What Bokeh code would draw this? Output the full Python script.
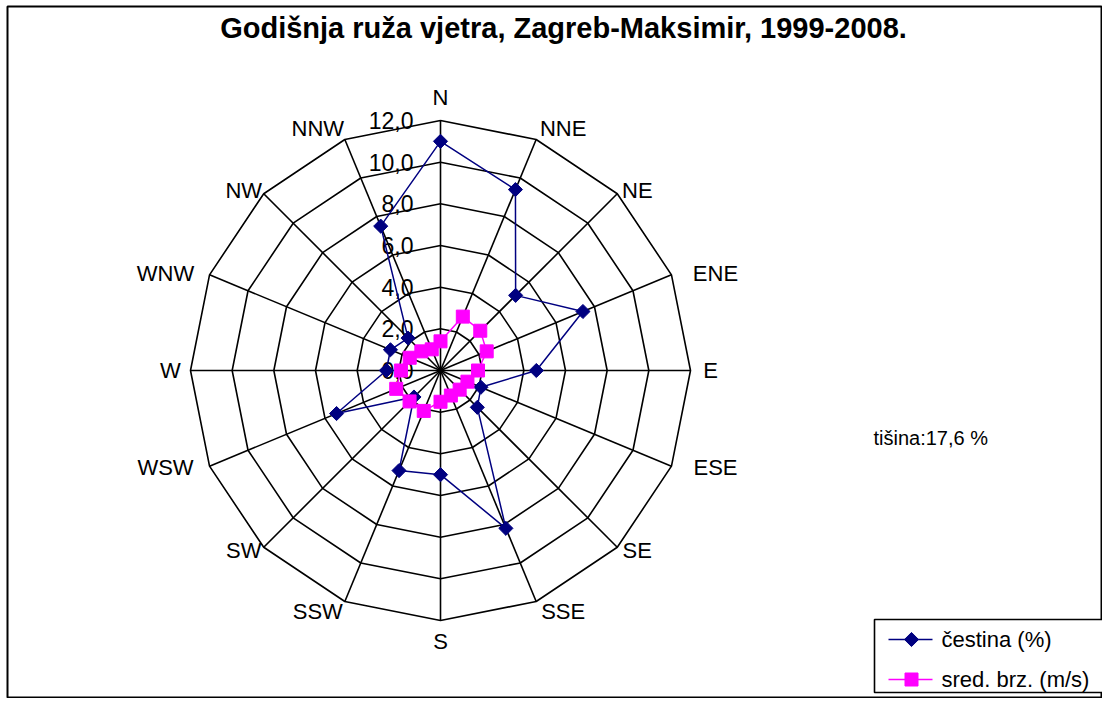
import numpy as np
from bokeh.plotting import figure
from bokeh.models import Range1d
from bokeh.core.properties import value
from bokeh.embed import file_html
from bokeh.resources import INLINE

# ---- data ----
directions = ["N", "NNE", "NE", "ENE", "E", "ESE", "SE", "SSE",
              "S", "SSW", "SW", "WSW", "W", "WNW", "NW", "NNW"]
frequency = [11.0, 9.4, 5.1, 7.4, 4.6, 2.1, 2.5, 8.2,
             5.0, 5.2, 1.8, 5.4, 2.6, 2.6, 2.2, 7.5]      # čestina (%)
speed = [1.4, 2.8, 2.7, 2.4, 1.8, 1.4, 1.3, 1.3,
         1.5, 2.1, 2.1, 2.3, 1.9, 1.6, 1.3, 1.1]          # sred. brz. (m/s)
ring_values = [2, 4, 6, 8, 10, 12]
tick_labels = ["0,0", "2,0", "4,0", "6,0", "8,0", "10,0", "12,0"]
tick_values = [0, 2, 4, 6, 8, 10, 12]
title_text = "Godišnja ruža vjetra, Zagreb-Maksimir, 1999-2008."
calm_text = "tišina:17,6 %"
series_names = ["čestina (%)", "sred. brz. (m/s)"]

# ---- geometry ----
W, H = 1102, 698
CX, CY = 440, 370          # centre in figure pixels
RMAX = 12.0
S = 250.0 / RMAX           # pixels per unit

def px(x):  # figure pixel x -> data x
    return (x - CX) / S

def py(y):  # figure pixel y (from top) -> data y
    return (CY - y) / S

ang = np.deg2rad(np.arange(16) * 22.5)
sx, sy = np.sin(ang), np.cos(ang)

p = figure(width=W, height=H, output_backend="svg", toolbar_location=None,
           x_range=Range1d(px(0), px(W)), y_range=Range1d(py(H), py(0)),
           min_border=0, match_aspect=False)
p.axis.visible = False
p.grid.visible = False
p.outline_line_color = None
p.background_fill_color = "white"
p.border_fill_color = "white"

FONT = value("Liberation Sans")
NAVY = "#000080"
PINK = "#FF00FF"

# chart frame
p.quad(left=[px(7)], right=[px(1101)], top=[py(6)], bottom=[py(697)],
       fill_color=None, line_color="black", line_width=2)

# rings
rx, ry = [], []
for r in ring_values:
    rx.append(list(np.append(r * sx, r * sx[0])))
    ry.append(list(np.append(r * sy, r * sy[0])))
p.multi_line(rx, ry, line_color="black", line_width=1.6)
# spokes
p.segment(x0=0, y0=0, x1=list(RMAX * sx), y1=list(RMAX * sy), line_color="black", line_width=1.6)

# direction labels: placed just outside each outer vertex (pixel offsets)
off_x = [0, 27, 20, 44, 20, 44, 20, 27, 0, -27, -20, -44, -20, -44, -20, -27]
off_y = [23, 11, 3, 1, 0, -1, -3, -10, -21, -10, -3, -1, 0, 1, 3, 11]
lab_x = [RMAX * sx[i] + off_x[i] / S for i in range(16)]
lab_y = [RMAX * sy[i] + off_y[i] / S for i in range(16)]
p.text(x=lab_x, y=lab_y, text=directions, text_font=FONT,
       text_font_size="22px", text_align="center", text_baseline="middle", text_color="black")

# radial tick labels
p.text(x=[px(CX - 27)] * len(tick_values), y=tick_values, text=tick_labels, text_font=FONT,
       text_font_size="23px", text_align="right", text_baseline="middle", text_color="black")

# series
f = np.array(frequency)
fx, fy = list(np.append(f * sx, f[0] * sx[0])), list(np.append(f * sy, f[0] * sy[0]))
p.line(fx, fy, line_color=NAVY, line_width=1.5)
p.scatter(list(f * sx), list(f * sy), marker="square", angle=np.pi / 4, size=10,
          fill_color=NAVY, line_color=NAVY)

v = np.array(speed)
vx, vy = list(np.append(v * sx, v[0] * sx[0])), list(np.append(v * sy, v[0] * sy[0]))
p.line(vx, vy, line_color=PINK, line_width=1.5)
p.scatter(list(v * sx), list(v * sy), marker="square", size=13, fill_color=PINK, line_color=PINK)

# title
p.text(x=[px(563)], y=[py(27)], text=[title_text], text_font=FONT, text_font_style="bold",
       text_font_size="29px", text_align="center", text_baseline="middle", text_color="black")

# calm
p.text(x=[px(873)], y=[py(437)], text=[calm_text], text_font=FONT,
       text_font_size="20px", text_align="left", text_baseline="middle", text_color="black")

# legend box
p.quad(left=[px(874)], right=[px(1110)], top=[py(619)], bottom=[py(692)],
       fill_color="white", line_color="black", line_width=1.6)
ly = [py(639), py(679)]
p.segment(x0=[px(888)], y0=[ly[0]], x1=[px(932)], y1=[ly[0]], line_color=NAVY, line_width=1.5)
p.scatter([px(911)], [ly[0]], marker="square", angle=np.pi / 4, size=10, fill_color=NAVY, line_color=NAVY)
p.segment(x0=[px(888)], y0=[ly[1]], x1=[px(932)], y1=[ly[1]], line_color=PINK, line_width=1.5)
p.scatter([px(911)], [ly[1]], marker="square", size=13, fill_color=PINK, line_color=PINK)
p.text(x=[px(941)] * 2, y=ly, text=series_names, text_font=FONT,
       text_font_size="22px", text_align="left", text_baseline="middle", text_color="black")

open("out.html", "w").write(file_html(p, INLINE))
